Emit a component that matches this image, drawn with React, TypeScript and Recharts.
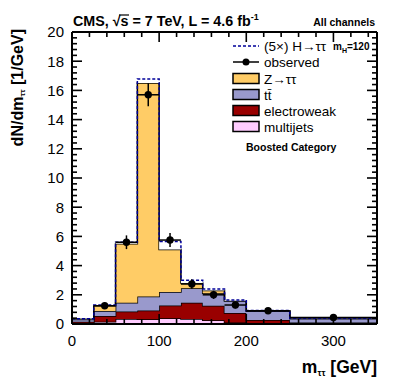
import React from 'react';
import { ComposedChart, Area, Scatter, ErrorBar, XAxis, YAxis } from 'recharts';

const FONT = '"Liberation Sans", Arial, Helvetica, sans-serif';

// bin edges in m_tautau [GeV]
const binEdges = [0, 25, 50, 75, 100, 125, 150, 175, 200, 250, 350];

// per-bin contributions, stacked bottom -> top (dN/dm [1/GeV])
const multijets = [0.05, 0.16, 0.34, 0.33, 0.4, 0.35, 0.25, 0.1, 0.05, 0.02];
const electroweak = [0.1, 0.39, 0.51, 0.59, 0.86, 1.1, 1.0, 0.65, 0.22, 0.08];
const ttbar = [0.15, 0.34, 0.61, 0.96, 0.94, 1.0, 0.85, 0.85, 0.62, 0.27];
const ztautau = [0.02, 0.36, 4.04, 14.62, 2.9, 0.35, 0.2, 0.0, 0.0, 0.01];
const higgs5x = [0.04, 0.05, 0.1, 0.28, 0.55, 0.2, 0.1, 0.05, 0.03, 0.02];

// observed data
const obsMass = [37.5, 62.5, 87.5, 112.5, 137.5, 162.5, 187.5, 225, 300];
const obsValue = [1.25, 5.6, 15.7, 5.75, 2.74, 2.0, 1.3, 0.91, 0.45];
const obsError = [0.22, 0.47, 0.79, 0.48, 0.33, 0.28, 0.23, 0.14, 0.07];
const obsHalfWidth = [12.5, 12.5, 12.5, 12.5, 12.5, 12.5, 12.5, 25, 50];

const xTicks = [0, 20, 40, 60, 80, 100, 120, 140, 160, 180, 200, 220, 240, 260, 280, 300, 320, 340];
const xMajor = [0, 100, 200, 300];
const yMajor = [0, 2, 4, 6, 8, 10, 12, 14, 16, 18, 20];
const yMinorStep = 0.4;
const yTicks = Array.from({ length: 51 }, (_, i) => Math.round(i * yMinorStep * 10) / 10);

const histRows = binEdges.map((m, i) => {
  const b = Math.min(i, multijets.length - 1);
  return {
    m,
    multijets: multijets[b],
    electroweak: electroweak[b],
    ttbar: ttbar[b],
    ztautau: ztautau[b],
    higgs: higgs5x[b],
  };
});

const obsRows = obsMass.map((m, i) => ({
  m,
  v: obsValue[i],
  ey: obsError[i],
  ex: obsHalfWidth[i],
}));

const isYMajor = (v: number) => yMajor.some((t) => Math.abs(t - v) < 1e-6);

// ROOT-style ticks pointing into the frame
const MAJOR = 10;
const MINOR = 5;
const TICK_W = 1.6;

const bottomTick = (props: any) => {
  const { x, y, payload } = props;
  const major = xMajor.includes(payload.value);
  return (
    <g>
      <path d={`M${x},${y}V${y - (major ? MAJOR : MINOR)}`} stroke="#000" strokeWidth={TICK_W} fill="none" />
      {major && (
        <text x={x} y={y + 22} textAnchor="middle" fontSize={15} fontFamily={FONT} fill="#000">
          {payload.value}
        </text>
      )}
    </g>
  );
};

const topTick = (props: any) => {
  const { x, y, payload } = props;
  const major = xMajor.includes(payload.value);
  return <path d={`M${x},${y}V${y + (major ? MAJOR : MINOR)}`} stroke="#000" strokeWidth={TICK_W} fill="none" />;
};

const leftTick = (props: any) => {
  const { x, y, payload } = props;
  const major = isYMajor(payload.value);
  return (
    <g>
      <path d={`M${x},${y}H${x + (major ? MAJOR : MINOR)}`} stroke="#000" strokeWidth={TICK_W} fill="none" />
      {major && (
        <text x={x - 8} y={y} dy="0.36em" textAnchor="end" fontSize={15} fontFamily={FONT} fill="#000">
          {payload.value}
        </text>
      )}
    </g>
  );
};

const rightTick = (props: any) => {
  const { x, y, payload } = props;
  const major = isYMajor(payload.value);
  return <path d={`M${x},${y}H${x - (major ? MAJOR : MINOR)}`} stroke="#000" strokeWidth={TICK_W} fill="none" />;
};

const legendBoxes = [
  { label: 'Z\u2192\u03c4\u03c4', color: '#FFCC66', y: 78.5 },
  { label: 'tt\u0304', color: '#9999CC', y: 94.5 },
  { label: 'electroweak', color: '#990000', y: 110.5 },
  { label: 'multijets', color: '#FFCCFF', y: 126.5 },
];

function Overlay() {
  return (
    <svg
      width={399}
      height={383}
      style={{ position: 'absolute', left: 0, top: 0, pointerEvents: 'none' }}
      fontFamily={FONT}
    >
      <text x={73} y={26} fontSize={14.3} fontWeight="bold">
        CMS, √s = 7 TeV, L = 4.6 fb
        <tspan dy={-6} fontSize={9}>-1</tspan>
      </text>
      <line x1={119} x2={129} y1={15} y2={15} stroke="#000" strokeWidth={1.2} />
      <text x={375} y={26} fontSize={10.5} fontWeight="bold" textAnchor="end">
        All channels
      </text>

      {/* legend */}
      <line x1={233} x2={259} y1={46} y2={46} stroke="#000099" strokeWidth={1.5} strokeDasharray="3 2" />
      <text x={264} y={51} fontSize={13.5}>
        (5×) H→ττ
      </text>
      <text x={333} y={50} fontSize={10} fontWeight="bold">
        m<tspan dy={3} fontSize={7}>H</tspan>
        <tspan dy={-3}>=120</tspan>
      </text>
      <line x1={233} x2={259} y1={62} y2={62} stroke="#000" strokeWidth={1.5} />
      <circle cx={246} cy={62} r={3.5} fill="#000" />
      <text x={264} y={67} fontSize={13.5}>
        observed
      </text>
      {legendBoxes.map((b) => (
        <g key={b.label}>
          <rect x={233} y={b.y - 5} width={26} height={10} fill={b.color} stroke="#000" strokeWidth={1.5} />
          <text x={264} y={b.y + 5} fontSize={13.5}>
            {b.label}
          </text>
        </g>
      ))}
      <text x={246} y={151} fontSize={10.5} fontWeight="bold">
        Boosted Category
      </text>

      {/* axis titles */}
      <text x={377} y={373} fontSize={17.5} fontWeight="bold" textAnchor="end">
        m<tspan dy={3} fontSize={9}>ττ</tspan>
        <tspan dy={-3}> [GeV]</tspan>
      </text>
      <text
        transform="translate(23,29) rotate(-90)"
        x={0}
        y={0}
        fontSize={16}
        fontWeight="bold"
        textAnchor="end"
      >
        dN/dm<tspan dy={2} fontSize={8}>ττ</tspan>
        <tspan dy={-2}> [1/GeV]</tspan>
      </text>
    </svg>
  );
}

export default function App() {
  const edge = { stroke: '#000', strokeWidth: 2 };
  return (
    <div style={{ position: 'absolute', left: 0, top: 0, width: 399, height: 383, background: '#fff' }}>
      <ComposedChart
        width={399}
        height={383}
        data={histRows}
        margin={{ top: 31, right: 21, bottom: 0, left: 0 }}
      >
        <Area
          xAxisId="b"
          yAxisId="l"
          type="stepAfter"
          dataKey="multijets"
          stackId="s"
          fill="#FFCCFF"
          fillOpacity={1}
          stroke="#000"
          strokeWidth={1.5}
          isAnimationActive={false}
        />
        <Area
          xAxisId="b"
          yAxisId="l"
          type="stepAfter"
          dataKey="electroweak"
          stackId="s"
          fill="#990000"
          fillOpacity={1}
          stroke="#000"
          strokeWidth={1.5}
          isAnimationActive={false}
        />
        <Area
          xAxisId="b"
          yAxisId="l"
          type="stepAfter"
          dataKey="ttbar"
          stackId="s"
          fill="#9999CC"
          fillOpacity={1}
          stroke="#000"
          strokeWidth={1.5}
          isAnimationActive={false}
        />
        <Area
          xAxisId="b"
          yAxisId="l"
          type="stepAfter"
          dataKey="ztautau"
          stackId="s"
          fill="#FFCC66"
          fillOpacity={1}
          stroke="#000"
          strokeWidth={1.5}
          isAnimationActive={false}
        />
        <Area
          xAxisId="b"
          yAxisId="l"
          type="stepAfter"
          dataKey="higgs"
          stackId="s"
          fill="#fff"
          fillOpacity={1}
          stroke="#000099"
          strokeWidth={1.5}
          strokeDasharray="3 2"
          isAnimationActive={false}
        />
        {/* invisible series so the top/right frame axes get a scale and draw their ticks */}
        <Area
          xAxisId="t"
          yAxisId="r"
          type="stepAfter"
          dataKey="multijets"
          fill="none"
          stroke="none"
          isAnimationActive={false}
        />
        <Scatter
          xAxisId="b"
          yAxisId="l"
          data={obsRows}
          dataKey="v"
          isAnimationActive={false}
          shape={(p: any) => <circle cx={p.cx} cy={p.cy} r={3.7} fill="#000" />}
        >
          <ErrorBar dataKey="ey" direction="y" width={0} stroke="#000" strokeWidth={1.5} />
          <ErrorBar dataKey="ex" direction="x" width={0} stroke="#000" strokeWidth={1.5} />
        </Scatter>
        <XAxis
          xAxisId="b"
          dataKey="m"
          type="number"
          domain={[0, 350]}
          allowDataOverflow
          ticks={xTicks}
          interval={0}
          tickSize={0}
          tickMargin={0}
          tickLine={false}
          tick={bottomTick}
          axisLine={edge}
          height={59}
        />
        <XAxis
          xAxisId="t"
          orientation="top"
          dataKey="m"
          type="number"
          domain={[0, 350]}
          allowDataOverflow
          ticks={xTicks}
          interval={0}
          tickSize={0}
          tickMargin={0}
          tickLine={false}
          tick={topTick}
          axisLine={edge}
          height={1}
        />
        <YAxis
          yAxisId="l"
          type="number"
          domain={[0, 20]}
          allowDataOverflow
          ticks={yTicks}
          interval={0}
          tickSize={0}
          tickMargin={0}
          tickLine={false}
          tick={leftTick}
          axisLine={edge}
          width={72}
        />
        <YAxis
          yAxisId="r"
          orientation="right"
          type="number"
          domain={[0, 20]}
          allowDataOverflow
          ticks={yTicks}
          interval={0}
          tickSize={0}
          tickMargin={0}
          tickLine={false}
          tick={rightTick}
          axisLine={edge}
          width={1}
        />
      </ComposedChart>
      <Overlay />
    </div>
  );
}
